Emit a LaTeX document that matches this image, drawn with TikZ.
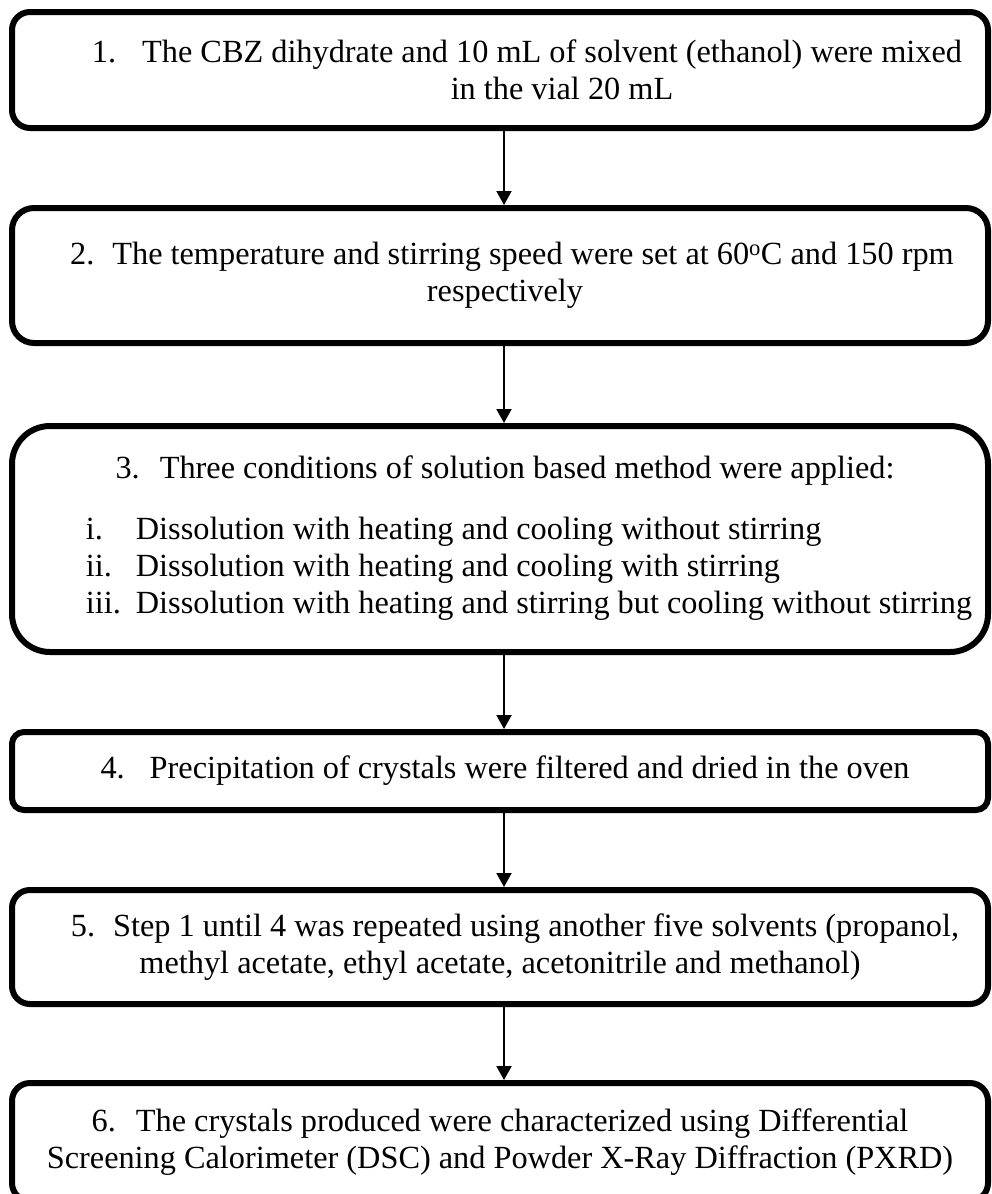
\documentclass[tikz,border=0pt]{standalone}
\usepackage{fontspec}
\setmainfont{Liberation Serif}
\usetikzlibrary{positioning,arrows.meta}

\tikzset{
  stepbox/.style={draw, line width=6pt, minimum width=976pt, inner sep=0pt,
    align=center, font=\fontsize{32.3}{37}\selectfont},
  flowarrow/.style={-{Triangle[length=14pt,width=15pt]}, line width=2pt}
}

\begin{document}
\begin{tikzpicture}[node distance=74pt]
\useasboundingbox (0,0) rectangle (992pt,-1194pt);

    % steps
    \node[stepbox, minimum height=116pt, rounded corners=18pt] (s1) at (500pt,-70pt)
        {\hspace*{54pt}1.\hspace{26pt}The CBZ dihydrate and 10 mL of solvent (ethanol) were mixed\\
         \hspace*{124pt}in the vial 20 mL};
    \node[stepbox, minimum height=135pt, rounded corners=22pt, below=of s1] (s2)
        {\hspace*{24pt}2.\hspace{18pt}The temperature and stirring speed were set at 60\textsuperscript{o}C and 150 rpm\\
         \hspace*{10pt}respectively};
    \node[stepbox, minimum height=226pt, rounded corners=38pt, below=77pt of s2] (s3)
        {\hspace*{58pt}\begin{tabular}{@{}l@{\hspace{15pt}}l@{}}
            \multicolumn{2}{c}{3.\hspace{20pt}Three conditions of solution based method were applied:\hspace{48pt}\mbox{}}\\[24pt]
            i.   & Dissolution with heating and cooling without stirring\\
            ii.  & Dissolution with heating and cooling with stirring\\
            iii. & Dissolution with heating and stirring but cooling without stirring
         \end{tabular}};
    \node[stepbox, minimum height=78pt, rounded corners=12pt, below=of s3] (s4)
        {\hspace*{10pt}4.\hspace{25pt}Precipitation of crystals were filtered and dried in the oven};
    \node[stepbox, minimum height=114pt, rounded corners=18pt, below=of s4] (s5)
        {\hspace*{30pt}5.\hspace{18pt}Step 1 until 4 was repeated using another five solvents (propanol,\\
         methyl acetate, ethyl acetate, acetonitrile and methanol)};
    \node[stepbox, minimum height=118pt, rounded corners=18pt, below=73pt of s5] (s6)
        {6.\hspace{20pt}The crystals produced were characterized using Differential\\
         Screening Calorimeter (DSC) and Powder X-Ray Diffraction (PXRD)};

    % arrows
    \foreach \a/\b in {s1/s2,s2/s3,s3/s4,s4/s5,s5/s6}
        \draw[flowarrow] ([xshift=4pt]\a.south) -- ([xshift=4pt]\b.north);
\end{tikzpicture}
\end{document}
